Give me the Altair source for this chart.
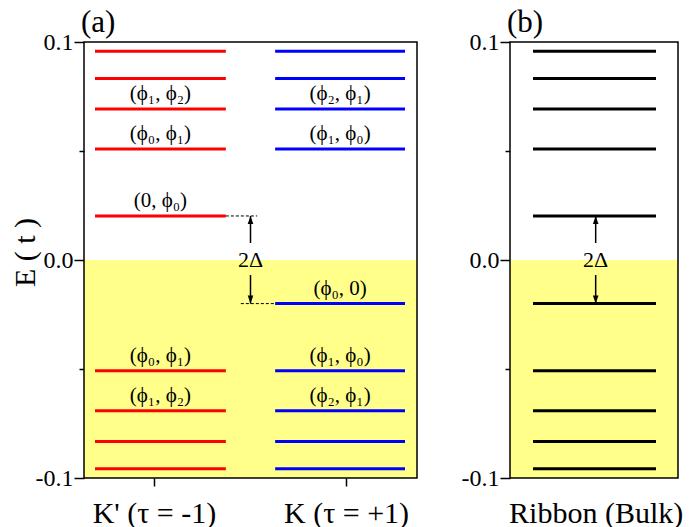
import altair as alt
import pandas as pd

FONT = "Liberation Serif"

# ---------------- data ----------------
kp_energy = [0.0957, 0.0833, 0.0693, 0.0509, 0.0202, -0.0508, -0.0691, -0.0833, -0.0957]
k_energy = [0.0957, 0.0833, 0.0693, 0.0509, -0.0200, -0.0508, -0.0691, -0.0833, -0.0957]
ribbon_energy = [0.0957, 0.0833, 0.0693, 0.0509, 0.0202, -0.0200, -0.0508, -0.0691, -0.0833, -0.0957]

kp_label_energy = [0.0693, 0.0509, 0.0202, -0.0508, -0.0691]
kp_labels = ["(ϕ₁, ϕ₂)", "(ϕ₀, ϕ₁)", "(0, ϕ₀)", "(ϕ₀, ϕ₁)", "(ϕ₁, ϕ₂)"]
k_label_energy = [0.0693, 0.0509, -0.0200, -0.0508, -0.0691]
k_labels = ["(ϕ₂, ϕ₁)", "(ϕ₁, ϕ₀)", "(ϕ₀, 0)", "(ϕ₁, ϕ₀)", "(ϕ₂, ϕ₁)"]

valley_names = ["K' (τ = -1)", "K (τ = +1)"]
ribbon_name = "Ribbon (Bulk)"
panel_titles = ["(a)", "(b)"]
y_title = "E ( t )"
y_major = [-0.1, 0.0, 0.1]
y_minor = [-0.05, 0.05]

gap_top = 0.0202
gap_bottom = -0.0200
gap_label = "2Δ"
arrow_tail = [0.0078, -0.0069]  # where the two arrows start (next to the label)

# ---------------- layout / style constants ----------------
E_MIN, E_MAX = -0.1, 0.1
KP_X = (0.033, 0.426)
K_X = (0.574, 0.964)
RIB_X = (0.137, 0.869)
A_TICKS = [0.21, 0.787]
A_ARROW_X = 0.5
B_ARROW_X = 0.51
DASH_UP = (0.426, 0.52)
DASH_LO = (0.471, 0.574)
YELLOW = "#FFFF8A"

W_A, W_B, H = 333, 168, 436

ysc = alt.Scale(domain=[E_MIN, E_MAX], nice=False, zero=False)
xsc = alt.Scale(domain=[0, 1], nice=False, zero=False)

label_expr_y = ("datum.value > 0.07 ? '0.1' : datum.value < -0.07 ? '-0.1' : "
                "datum.value == 0 ? '0.0' : ''")


def y_axis(with_title):
    kw = dict(
        values=sorted(y_major + y_minor),
        labelExpr=label_expr_y,
        tickSize={"condition": {"test": "datum.value != 0 && abs(datum.value) < 0.07", "value": 5},
                  "value": 10},
        tickWidth=1.5, tickColor="black", domain=False, grid=False,
        labelFont=FONT, labelFontSize=24, labelColor="black", labelPadding=1,
    )
    if with_title:
        kw.update(title=y_title, titleFont=FONT, titleFontSize=30, titleFontWeight="normal",
                  titleColor="black", titleX=-50, titleY=210, titleBaseline="alphabetic",
                  titleAngle=270)
    else:
        kw.update(title=None)
    return alt.Axis(**kw)


def x_axis(values, expr, tick_opacity):
    return alt.Axis(values=values, labelExpr=expr, tickSize=8, tickWidth=1.5, tickColor="black",
                    tickOpacity=tick_opacity, domain=False, grid=False, labelFont=FONT,
                    labelFontSize=30, labelColor="black", labelBaseline="alphabetic",
                    labelPadding=36, title=None)


def XX(f):
    return alt.X(f, scale=xsc)


def YY(f):
    return alt.Y(f, scale=ysc)


def panel(width, title, x_ax, y_ax, levels, texts, arrow_x, dashes):
    base = pd.DataFrame({"x0": [0.0], "x1": [1.0], "y0": [E_MIN], "y1": [0.0], "y2": [E_MAX]})
    layers = []
    # yellow occupied region (E < 0) carries the axes
    layers.append(alt.Chart(base).mark_rect(color=YELLOW).encode(
        x=alt.X("x0:Q", scale=xsc, axis=x_ax), x2="x1:Q",
        y=alt.Y("y0:Q", scale=ysc, axis=y_ax), y2="y1:Q"))
    for df, color in levels:
        layers.append(alt.Chart(df).mark_rule(color=color, strokeWidth=3).encode(
            x=XX("x0:Q"), x2="x1:Q", y=YY("E:Q")))
    for df in texts:
        layers.append(alt.Chart(df).mark_text(font=FONT, fontSize=21, color="black",
                                              baseline="middle", dy=-15).encode(
            x=XX("xc:Q"), y=YY("E:Q"), text="label:N"))
    if dashes is not None:
        layers.append(alt.Chart(dashes).mark_rule(color="black", strokeWidth=1,
                                                  strokeDash=[3, 2]).encode(
            x=XX("x0:Q"), x2="x1:Q", y=YY("E:Q")))
    # gap arrows
    arr = pd.DataFrame({"x": [arrow_x, arrow_x], "tip": [gap_top, gap_bottom],
                        "tail": arrow_tail, "dir": ["up", "down"]})
    layers.append(alt.Chart(arr).mark_rule(color="black", strokeWidth=1.5).encode(
        x=XX("x:Q"), y=YY("tip:Q"), y2="tail:Q"))
    layers.append(alt.Chart(arr[arr["dir"] == "up"]).mark_point(
        shape="M0,0L-0.35,1L0.35,1Z", filled=True, size=256, color="black", opacity=1).encode(
        x=XX("x:Q"), y=YY("tip:Q")))
    layers.append(alt.Chart(arr[arr["dir"] == "down"]).mark_point(
        shape="M0,0L-0.35,-1L0.35,-1Z", filled=True, size=256, color="black", opacity=1).encode(
        x=XX("x:Q"), y=YY("tip:Q")))
    lab = pd.DataFrame({"x": [arrow_x], "E": [0.0], "t": [gap_label]})
    layers.append(alt.Chart(lab).mark_text(font=FONT, fontSize=22, color="black",
                                           baseline="middle").encode(
        x=XX("x:Q"), y=YY("E:Q"), text="t:N"))
    # frame
    layers.append(alt.Chart(base).mark_rect(fillOpacity=0, stroke="black", strokeWidth=1.5).encode(
        x=XX("x0:Q"), x2="x1:Q", y=YY("y0:Q"), y2="y2:Q"))
    return alt.layer(*layers).properties(
        width=width, height=H,
        title=alt.TitleParams(text=title, anchor="start", frame="group", font=FONT, fontSize=31,
                              fontWeight="normal", color="black", dx=-3, offset=-40,
                              baseline="bottom"))


kp_df = pd.DataFrame({"E": kp_energy, "x0": KP_X[0], "x1": KP_X[1]})
k_df = pd.DataFrame({"E": k_energy, "x0": K_X[0], "x1": K_X[1]})
rib_df = pd.DataFrame({"E": ribbon_energy, "x0": RIB_X[0], "x1": RIB_X[1]})
kp_txt = pd.DataFrame({"E": kp_label_energy, "label": kp_labels, "xc": sum(KP_X) / 2})
k_txt = pd.DataFrame({"E": k_label_energy, "label": k_labels, "xc": sum(K_X) / 2})
dash_df = pd.DataFrame({"E": [gap_top, gap_bottom], "x0": [DASH_UP[0], DASH_LO[0]],
                        "x1": [DASH_UP[1], DASH_LO[1]]})

expr_a = f"datum.value < 0.5 ? \"{valley_names[0]}\" : \"{valley_names[1]}\""
expr_b = f"\"{ribbon_name}\""

panel_a = panel(W_A, panel_titles[0], x_axis(A_TICKS, expr_a, 1), y_axis(True),
                [(kp_df, "#FF0000"), (k_df, "#0000FF")], [kp_txt, k_txt], A_ARROW_X, dash_df)
panel_b = panel(W_B, panel_titles[1], x_axis([0.51], expr_b, 0), y_axis(False),
                [(rib_df, "black")], [], B_ARROW_X, None)

chart = alt.hconcat(panel_a, panel_b, spacing=43).properties(
    padding={"left": 10, "top": 7, "right": 0, "bottom": 0}
).configure_view(stroke=None)

chart.save("out.html", embed_options={"renderer": "svg", "actions": False})
